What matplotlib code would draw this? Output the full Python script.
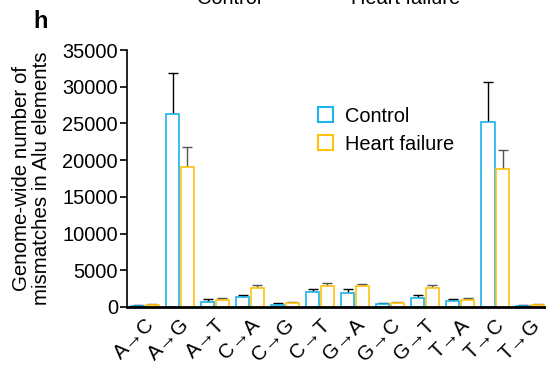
import numpy as np
import matplotlib
matplotlib.use("Agg")
import matplotlib.pyplot as plt
from matplotlib.patches import Patch

plt.rcParams['font.family'] = ['Liberation Sans', 'DejaVu Sans']

categories = ["A\u2192C", "A\u2192G", "A\u2192T", "C\u2192A", "C\u2192G", "C\u2192T",
              "G\u2192A", "G\u2192C", "G\u2192T", "T\u2192A", "T\u2192C", "T\u2192G"]
control = [140, 26300, 730, 1300, 320, 2000, 1950, 360, 1230, 770, 25200, 140]
control_err = [100, 5600, 320, 320, 180, 450, 450, 140, 410, 320, 5500, 100]
heart_failure = [270, 19100, 950, 2540, 540, 2900, 2820, 540, 2630, 950, 18800, 270]
heart_failure_err = [100, 2700, 270, 400, 140, 410, 320, 140, 360, 270, 2600, 100]

blue = "#1cb4ea"
gold = "#ffc20e"

fig = plt.figure(figsize=(5.46, 3.68), dpi=100)
ax = fig.add_axes([127 / 546, 1 - 307 / 368, 1 - 127 / 546, 257 / 368])

x = np.arange(len(categories))
w = 0.38
ax.bar(x - 0.21, control, w, facecolor="white", edgecolor=blue, linewidth=1.2, zorder=2)
ax.bar(x + 0.21, heart_failure, w, facecolor="white", edgecolor=gold, linewidth=1.2, zorder=2)
ax.errorbar(x - 0.21, control, yerr=[np.zeros(len(x)), control_err], fmt="none",
            ecolor="black", elinewidth=1.0, capsize=3.6, capthick=1.0, zorder=1)
ax.errorbar(x + 0.21, heart_failure, yerr=[np.zeros(len(x)), heart_failure_err], fmt="none",
            ecolor="#555555", elinewidth=1.0, capsize=3.6, capthick=1.0, zorder=1)

ax.set_xlim(-0.51, 11.45)
ax.set_ylim(0, 35000)
ax.set_yticks(range(0, 35001, 5000))
ax.tick_params(axis="y", labelsize=14.4, length=5, width=1.2, pad=1.5, direction="out")
ax.tick_params(axis="x", length=0, pad=6)
ax.set_xticks(x)
ax.set_xticklabels(categories, rotation=45, ha="right", rotation_mode="anchor", fontsize=14.8)
for s in ["top", "right"]:
    ax.spines[s].set_visible(False)
ax.spines["left"].set_linewidth(1.2)
ax.spines["bottom"].set_linewidth(2.0)

ax.set_ylabel("Genome-wide number of\nmismatches in Alu elements", fontsize=14.8, labelpad=8,
              linespacing=1.1)

handles = [Patch(facecolor="white", edgecolor=blue, linewidth=1.5, label="Control"),
           Patch(facecolor="white", edgecolor=gold, linewidth=1.5, label="Heart failure")]
ax.legend(handles=handles, loc="upper left", bbox_to_anchor=(0.455, 0.78), frameon=False,
          fontsize=14.4, handlelength=0.75, handleheight=0.75, handletextpad=0.6,
          labelspacing=0.45, borderpad=0, borderaxespad=0)

fig.text(33 / 546, 1 - 28 / 368, "h", fontsize=17, fontweight="bold")
# titles of the panel above, cut off at the top edge
fig.text(229 / 546, 1 - 4 / 368, "Control", fontsize=14.4, ha="center", va="baseline")
fig.text(406 / 546, 1 - 4 / 368, "Heart failure", fontsize=14.4, ha="center", va="baseline")

fig.savefig("out.png", dpi=100)
